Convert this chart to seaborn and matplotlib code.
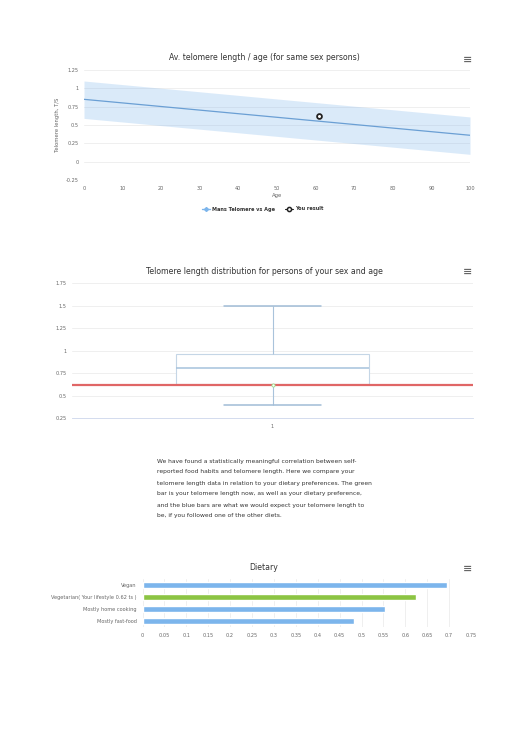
import matplotlib
matplotlib.use("Agg")
import matplotlib.pyplot as plt
import seaborn as sns
import pandas as pd

# data
ages = [0, 100]
mean_tl = [0.85, 0.36]
band_low = [0.59, 0.10]
band_high = [1.10, 0.61]
your_age = 61
your_tl = 0.62

box_summary = [0.40, 0.635, 0.805, 0.97, 1.50]  # min, q1, median, q3, max

diet_labels = ["Vegan", "Vegetarian( Your lifestyle 0.62 ts )",
               "Mostly home cooking", "Mostly fast-food"]
diet_values = [0.695, 0.624, 0.553, 0.484]
diet_colors = ["#7cb5ec", "#8cc443", "#7cb5ec", "#7cb5ec"]

paragraph = [
    "We have found a statistically meaningful correlation between self-",
    "reported food habits and telomere length. Here we compare your",
    "telomere length data in relation to your dietary preferences. The green",
    "bar is your telomere length now, as well as your dietary preference,",
    "and the blue bars are what we would expect your telomere length to",
    "be, if you followed one of the other diets.",
]

sns.set_theme(style="white")
plt.rcParams["font.family"] = ["DejaVu Sans"]

W, H = 529, 748
fig = plt.figure(figsize=(W / 100, H / 100), dpi=100)
fig.patch.set_facecolor("white")


def rect(left, top, right, bottom):
    return [left / W, 1 - bottom / H, (right - left) / W, (bottom - top) / H]


GRID = "#ececec"
TICK = "#666666"
TITLE = "#333333"


def style_axes(ax):
    for s in ax.spines.values():
        s.set_visible(False)
    ax.tick_params(length=0, labelsize=3.6, colors=TICK, pad=4)


def menu_icon(x, y):
    fig.text(x / W, 1 - y / H, "≡", fontsize=8, color="#666666",
             ha="center", va="center", fontweight="bold")


def chart_title(text, y):
    fig.text(264 / W, 1 - y / H, text, fontsize=5.6, color=TITLE,
             ha="center", va="center")


# ---- Chart 1: telomere length vs age ----
ax1 = fig.add_axes(rect(84, 70, 470, 180))
line_df = pd.DataFrame({"age": ages, "tl": mean_tl})
ax1.fill_between(ages, band_low, band_high, color="#7cb5ec", alpha=0.28, lw=0)
sns.lineplot(data=line_df, x="age", y="tl", ax=ax1, color="#6a9fd4", lw=0.9)
ax1.scatter([your_age], [your_tl], s=12, facecolor="white", edgecolor="#222222",
            lw=1.3, zorder=5)
ax1.set_xlim(0, 100)
ax1.set_ylim(-0.25, 1.25)
ax1.set_yticks([-0.25, 0, 0.25, 0.5, 0.75, 1, 1.25])
ax1.set_yticklabels(["-0.25", "0", "0.25", "0.5", "0.75", "1", "1.25"])
ax1.set_xticks(range(0, 101, 10))
ax1.grid(axis="y", color=GRID, lw=0.6)
style_axes(ax1)
ax1.set_xlabel("Age", fontsize=3.8, color=TICK, labelpad=2)
ax1.set_ylabel("Telomere length, T/S", fontsize=3.8, color=TICK, labelpad=4)
chart_title("Av. telomere length / age (for same sex persons)", 58)
# legend
ly = 1 - 209 / H
fig.lines.append(plt.Line2D([202 / W, 210 / W], [ly, ly],
                            color="#7cb5ec", lw=1.0, transform=fig.transFigure))
fig.lines.append(plt.Line2D([206 / W], [ly], marker="D", ms=2,
                            color="#7cb5ec", transform=fig.transFigure))
fig.text(212 / W, ly, "Mans Telomere vs Age", fontsize=3.65,
         fontweight="bold", color="#333333", va="center")
fig.lines.append(plt.Line2D([285 / W, 293 / W], [ly, ly],
                            color="#222222", lw=0.8, transform=fig.transFigure))
fig.lines.append(plt.Line2D([289 / W], [ly], marker="o", ms=3,
                            mfc="white", mec="#222222", mew=1.1,
                            transform=fig.transFigure))
fig.text(295 / W, ly, "You result", fontsize=3.65,
         fontweight="bold", color="#333333", va="center")
menu_icon(468, 60)

# ---- Chart 2: box plot ----
ax2 = fig.add_axes(rect(72, 283.3, 473, 418.3))
sns.boxplot(y=box_summary, ax=ax2, whis=(0, 100), width=0.48,
            boxprops=dict(facecolor="white", edgecolor="#c5d6e6", lw=0.8),
            whiskerprops=dict(color="#a9c3db", lw=0.8),
            capprops=dict(color="#a0bcd6", lw=1.1),
            medianprops=dict(color="#a6c2dc", lw=1.1),
            showfliers=False)
ax2.axhline(your_tl, color="#e06666", lw=1.6, zorder=4)
ax2.scatter([0], [your_tl], s=5, facecolor="white", edgecolor="#9be08a",
            lw=0.6, zorder=6)
ax2.set_xlim(-0.5, 0.5)
ax2.set_ylim(0.25, 1.75)
ax2.set_yticks([0.25, 0.5, 0.75, 1, 1.25, 1.5, 1.75])
ax2.set_yticklabels(["0.25", "0.5", "0.75", "1", "1.25", "1.5", "1.75"])
ax2.set_xticks([0])
ax2.set_xticklabels(["1"])
ax2.set_ylabel("")
ax2.grid(axis="y", color=GRID, lw=0.6)
style_axes(ax2)
ax2.spines["bottom"].set_visible(True)
ax2.spines["bottom"].set_color("#ccd6eb")
ax2.spines["bottom"].set_linewidth(0.6)
ax2.tick_params(axis="x", length=2, color="#ccd6eb", pad=2)
chart_title("Telomere length distribution for persons of your sex and age", 271)
menu_icon(468, 272)

# ---- paragraph ----
for i, line in enumerate(paragraph):
    fig.text(157 / W, 1 - (461 + 11 * i) / H, line, fontsize=4.3,
             color="#333333", va="center")

# ---- Chart 3: dietary bars ----
ax3 = fig.add_axes(rect(142.5, 579, 471, 627))
diet_df = pd.DataFrame({"diet": diet_labels, "value": diet_values})
sns.barplot(data=diet_df, x="value", y="diet", hue="diet",
            palette=diet_colors, legend=False, ax=ax3, width=0.5,
            saturation=1)
ax3.set_xlim(0, 0.75)
xt = [i * 0.05 for i in range(16)]
ax3.set_xticks(xt)
ax3.set_xticklabels(["0", "0.05", "0.1", "0.15", "0.2", "0.25", "0.3", "0.35",
                     "0.4", "0.45", "0.5", "0.55", "0.6", "0.65", "0.7", "0.75"])
ax3.set_xlabel("")
ax3.set_ylabel("")
ax3.grid(axis="x", color=GRID, lw=0.6)
ax3.set_axisbelow(True)
style_axes(ax3)
chart_title("Dietary", 567)
menu_icon(468, 569)

fig.savefig("out.png", dpi=100, facecolor="white")
